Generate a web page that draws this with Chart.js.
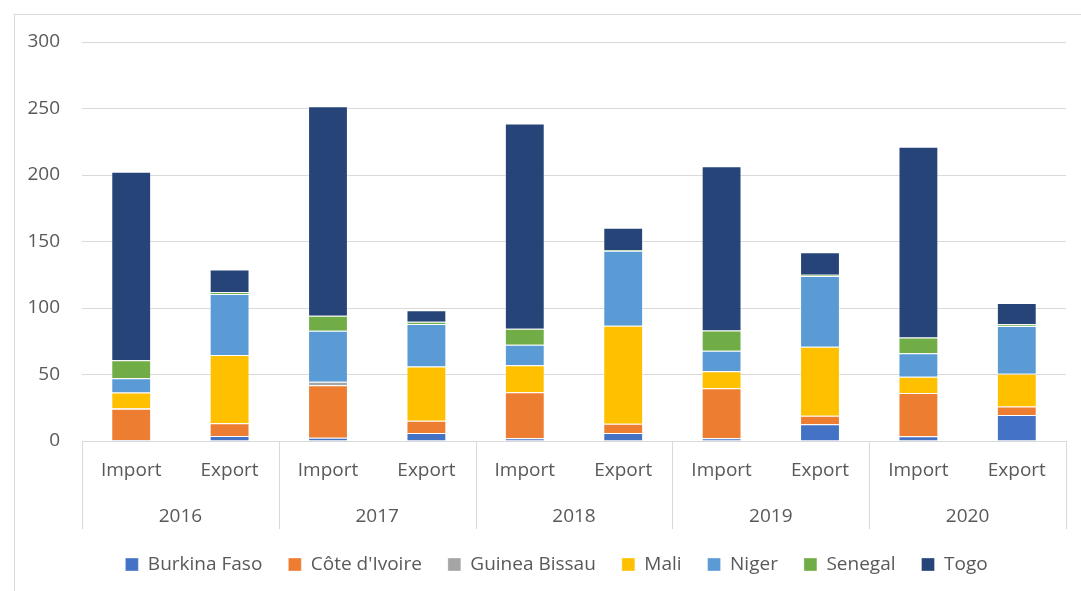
<!DOCTYPE html>
<html lang="en">
<head>
    <meta charset="UTF-8">
    <title>Trade by partner country</title>
    <script src="https://cdn.jsdelivr.net/npm/chart.js"></script>
    <style>
        body { margin: 0; background: #fff; }
        #wrap {
            position: absolute;
            left: 14px;
            top: 14px;
            width: 1075px;
            height: 577px;
            border-left: 1px solid #d9d9d9;
            border-top: 1px solid #d9d9d9;
        }
    </style>
</head>
<body>
    <div id="wrap">
        <canvas id="tradeChart" width="1075" height="569"></canvas>
    </div>

    <script>
        const flows = ['Import', 'Export', 'Import', 'Export', 'Import', 'Export', 'Import', 'Export', 'Import', 'Export'];
        const years = ['2016', '2017', '2018', '2019', '2020'];
        const yTicks = [0, 50, 100, 150, 200, 250, 300];

        const burkinaFaso  = [0.8, 3.8, 2.5, 6.0, 2.0, 6.0, 2.0, 12.6, 3.5, 19.6];
        const coteDIvoire  = [23.4, 9.5, 39.5, 9.3, 34.7, 7.0, 37.7, 6.3, 32.6, 6.3];
        const guineaBissau = [0.4, 0, 2.5, 0, 0, 0, 0, 0, 0, 0];
        const mali         = [11.8, 51.3, 0, 40.7, 20.3, 73.7, 12.8, 52.0, 12.3, 24.6];
        const niger        = [10.8, 46.0, 38.4, 31.9, 15.4, 56.3, 15.4, 53.1, 17.6, 36.0];
        const senegal      = [13.5, 1.3, 11.3, 1.7, 12.0, 0.7, 15.1, 1.0, 11.8, 1.2];
        const togo         = [141.8, 17.1, 157.5, 8.8, 154.4, 16.7, 123.5, 16.9, 143.5, 16.1];

        const seriesNames = ['Burkina Faso', "Côte d'Ivoire", 'Guinea Bissau', 'Mali', 'Niger', 'Senegal', 'Togo'];
        const seriesData = [burkinaFaso, coteDIvoire, guineaBissau, mali, niger, senegal, togo];
        const seriesColors = ['#4472c4', '#ed7d31', '#a5a5a5', '#ffc000', '#5b9bd5', '#70ad47', '#264478'];

        const gridColor = '#d9d9d9';

        Chart.defaults.font.family = "'Open Sans', sans-serif";
        Chart.defaults.font.size = 19;
        Chart.defaults.color = '#595959';

        // vertical separators between the year groups, through both label rows
        const groupLines = {
            id: 'groupLines',
            afterLayout(chart) {
                // legend sits centred under the whole frame, a bit right of the plot
                chart.legend.left += 16;
                chart.legend.right += 16;
            },
            afterDraw(chart) {
                const x = chart.scales.x;
                const x2 = chart.scales.x2;
                const ctx = chart.ctx;
                ctx.save();
                ctx.strokeStyle = gridColor;
                ctx.lineWidth = 1;
                for (let i = 0; i <= years.length; i++) {
                    const px = Math.round(x.left + i * x.width / years.length) + 0.5;
                    ctx.beginPath();
                    ctx.moveTo(px, x.top);
                    ctx.lineTo(px, x2.bottom);
                    ctx.stroke();
                }
                ctx.restore();
            }
        };

        const datasets = seriesNames.map((name, i) => ({
            label: name,
            data: seriesData[i],
            backgroundColor: seriesColors[i],
            borderColor: 'rgba(255, 255, 255, 0.35)',
            borderWidth: 1,
            categoryPercentage: 1,
            barPercentage: 0.405
        }));

        new Chart(document.getElementById('tradeChart'), {
            type: 'bar',
            data: { labels: flows, datasets: datasets },
            options: {
                responsive: false,
                animation: false,
                layout: { padding: { top: 27, right: 24, bottom: 0, left: 0 } },
                plugins: {
                    tooltip: { enabled: false },
                    legend: {
                        position: 'bottom',
                        labels: {
                            boxWidth: 13,
                            boxHeight: 13,
                            padding: 26,
                            color: '#595959'
                        }
                    }
                },
                scales: {
                    y: {
                        stacked: true,
                        min: 0,
                        max: 300,
                        afterFit: scale => {
                            scale.width = 67;
                            scale.paddingTop = 0;
                        },
                        afterBuildTicks: scale => { scale.ticks = yTicks.map(v => ({ value: v })); },
                        grid: { color: gridColor, drawTicks: false },
                        border: { display: false },
                        ticks: { padding: 22 }
                    },
                    x: {
                        stacked: true,
                        afterFit: scale => { scale.height = 52; },
                        grid: { display: false, drawTicks: false },
                        border: { color: gridColor },
                        ticks: { padding: 18, maxRotation: 0, autoSkip: false }
                    },
                    x2: {
                        type: 'category',
                        position: 'bottom',
                        labels: years,
                        offset: true,
                        afterFit: scale => { scale.height = 36; },
                        grid: { display: false, drawTicks: false },
                        border: { display: false },
                        ticks: { padding: 12, maxRotation: 0 }
                    }
                }
            },
            plugins: [groupLines]
        });
    </script>
</body>
</html>
